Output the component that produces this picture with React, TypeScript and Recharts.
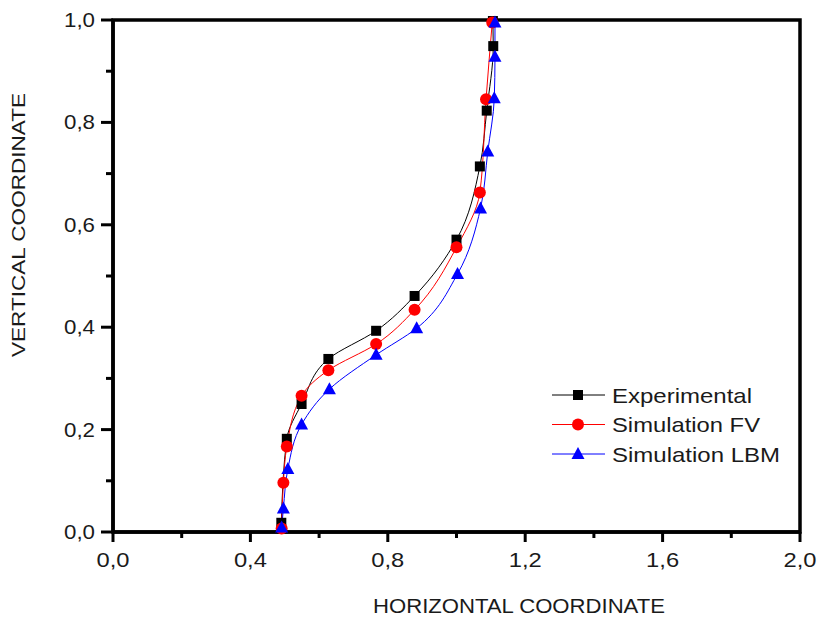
import { LineChart, Line, XAxis, YAxis, Legend, ReferenceArea } from 'recharts';

const expX = [0.49, 0.506, 0.549, 0.627, 0.766, 0.878, 1.0, 1.068, 1.088, 1.107, 1.106];
const expY = [0.018, 0.182, 0.25, 0.338, 0.393, 0.461, 0.571, 0.714, 0.823, 0.949, 0.998];

const fvX = [0.491, 0.496, 0.506, 0.549, 0.627, 0.766, 0.878, 1.0, 1.068, 1.086, 1.104];
const fvY = [0.007, 0.096, 0.167, 0.266, 0.316, 0.367, 0.434, 0.556, 0.663, 0.845, 0.995];

const lbmX = [0.491, 0.496, 0.509, 0.549, 0.63, 0.766, 0.884, 1.003, 1.07, 1.091, 1.11, 1.112, 1.112];
const lbmY = [0.009, 0.046, 0.123, 0.21, 0.279, 0.346, 0.398, 0.504, 0.632, 0.743, 0.847, 0.928, 0.995];

const xTicks = [0, 0.2, 0.4, 0.6, 0.8, 1.0, 1.2, 1.4, 1.6, 1.8, 2.0];
const yTicks = [0, 0.1, 0.2, 0.3, 0.4, 0.5, 0.6, 0.7, 0.8, 0.9, 1.0];

const seriesNames = ['Experimental', 'Simulation FV', 'Simulation LBM'];

const FONT = '"Liberation Sans", Arial, sans-serif';
const TEXT = '#1a1a1a';
const AXIS_W = 3.5;

const toPoints = (xs: number[], ys: number[]) => xs.map((x, i) => ({ x, y: ys[i] }));

const fmt = (v: number) => v.toFixed(1).replace('.', ',');

function Square({ cx, cy }: { cx: number; cy: number }) {
  return <rect x={cx - 5} y={cy - 5} width={10} height={10} fill="#000" />;
}

function Circle({ cx, cy }: { cx: number; cy: number }) {
  return <circle cx={cx} cy={cy} r={6} fill="#ff0000" />;
}

function Triangle({ cx, cy }: { cx: number; cy: number }) {
  return <path d={`M${cx},${cy - 7} L${cx + 6.5},${cy + 5} L${cx - 6.5},${cy + 5} Z`} fill="#0000ff" />;
}

const markers = [Square, Circle, Triangle];
const colors = ['#000000', '#ff0000', '#0000ff'];

function XTick(props: any) {
  const { x, y, payload, index } = props;
  const major = index % 2 === 0;
  return (
    <g>
      <line x1={x} x2={x} y1={y} y2={y + (major ? 10 : 6)} stroke="#000" strokeWidth={3} />
      {major && (
        <text x={x} y={y + 35} textAnchor="middle" fontSize={21} fontFamily={FONT} fill={TEXT} textLength={33} lengthAdjust="spacingAndGlyphs">
          {fmt(payload.value)}
        </text>
      )}
    </g>
  );
}

function YTick(props: any) {
  const { x, y, payload, index } = props;
  const major = index % 2 === 0;
  return (
    <g>
      <line x1={x} x2={x - (major ? 12 : 7)} y1={y} y2={y} stroke="#000" strokeWidth={3} />
      {major && (
        <text x={x - 18} y={y + 7} textAnchor="end" fontSize={21} fontFamily={FONT} fill={TEXT} textLength={31} lengthAdjust="spacingAndGlyphs">
          {fmt(payload.value)}
        </text>
      )}
    </g>
  );
}

const legendWidths = [140, 148, 168];

function LegendBox() {
  return (
    <svg width={240} height={90} style={{ display: 'block' }}>
      {seriesNames.map((name, i) => {
        const cy = 12 + i * 29.5;
        const M = markers[i];
        return (
          <g key={name}>
            <line x1={2} x2={55} y1={cy} y2={cy} stroke={colors[i]} strokeWidth={1} />
            <M cx={28} cy={cy} />
            <text x={62} y={cy + 7.5} fontSize={21} fontFamily={FONT} fill={TEXT} textLength={legendWidths[i]} lengthAdjust="spacingAndGlyphs">
              {name}
            </text>
          </g>
        );
      })}
    </svg>
  );
}

export default function App() {
  const series = [toPoints(expX, expY), toPoints(fvX, fvY), toPoints(lbmX, lbmY)];

  return (
    <div style={{ position: 'absolute', left: 0, top: 0, background: '#fff' }}>
      <LineChart width={817} height={617} margin={{ top: 20, right: 17, bottom: 0, left: 0 }}>
        <XAxis
          type="number"
          dataKey="x"
          domain={[0, 2]}
          ticks={xTicks}
          interval={0}
          height={85}
          tickSize={0}
          tickMargin={0}
          tickLine={false}
          axisLine={{ stroke: '#000', strokeWidth: AXIS_W }}
          tick={XTick}
          label={{
            content: () => (
              <text x={519} y={613} textAnchor="middle" fontSize={20} fontFamily={FONT} fill={TEXT} textLength={292} lengthAdjust="spacingAndGlyphs">
                HORIZONTAL COORDINATE
              </text>
            ),
          }}
        />
        <YAxis
          type="number"
          dataKey="y"
          domain={[0, 1]}
          ticks={yTicks}
          interval={0}
          width={113}
          tickSize={0}
          tickMargin={0}
          tickLine={false}
          axisLine={{ stroke: '#000', strokeWidth: AXIS_W }}
          tick={YTick}
          label={{
            content: () => (
              <text x={25} y={225} transform="rotate(-90 25 225)" textAnchor="middle" fontSize={18} fontFamily={FONT} fill={TEXT} textLength={264} lengthAdjust="spacingAndGlyphs">
                VERTICAL COORDINATE
              </text>
            ),
          }}
        />
        <ReferenceArea x1={0} x2={2} y1={0} y2={1} fill="none" stroke="#000" strokeWidth={AXIS_W} />
        {series.map((data, i) => {
          const M = markers[i];
          return (
            <Line
              key={seriesNames[i]}
              name={seriesNames[i]}
              data={data}
              dataKey="y"
              type="monotoneY"
              stroke={colors[i]}
              strokeWidth={1}
              dot={(p: any) => <M key={`${i}-${p.index}`} cx={p.cx} cy={p.cy} />}
              activeDot={false}
              isAnimationActive={false}
            />
          );
        })}
        <Legend
          layout="vertical"
          align="center"
          verticalAlign="middle"
          content={() => <LegendBox />}
          wrapperStyle={{ left: 550, top: 383, width: 240, height: 90 }}
        />
      </LineChart>
    </div>
  );
}
